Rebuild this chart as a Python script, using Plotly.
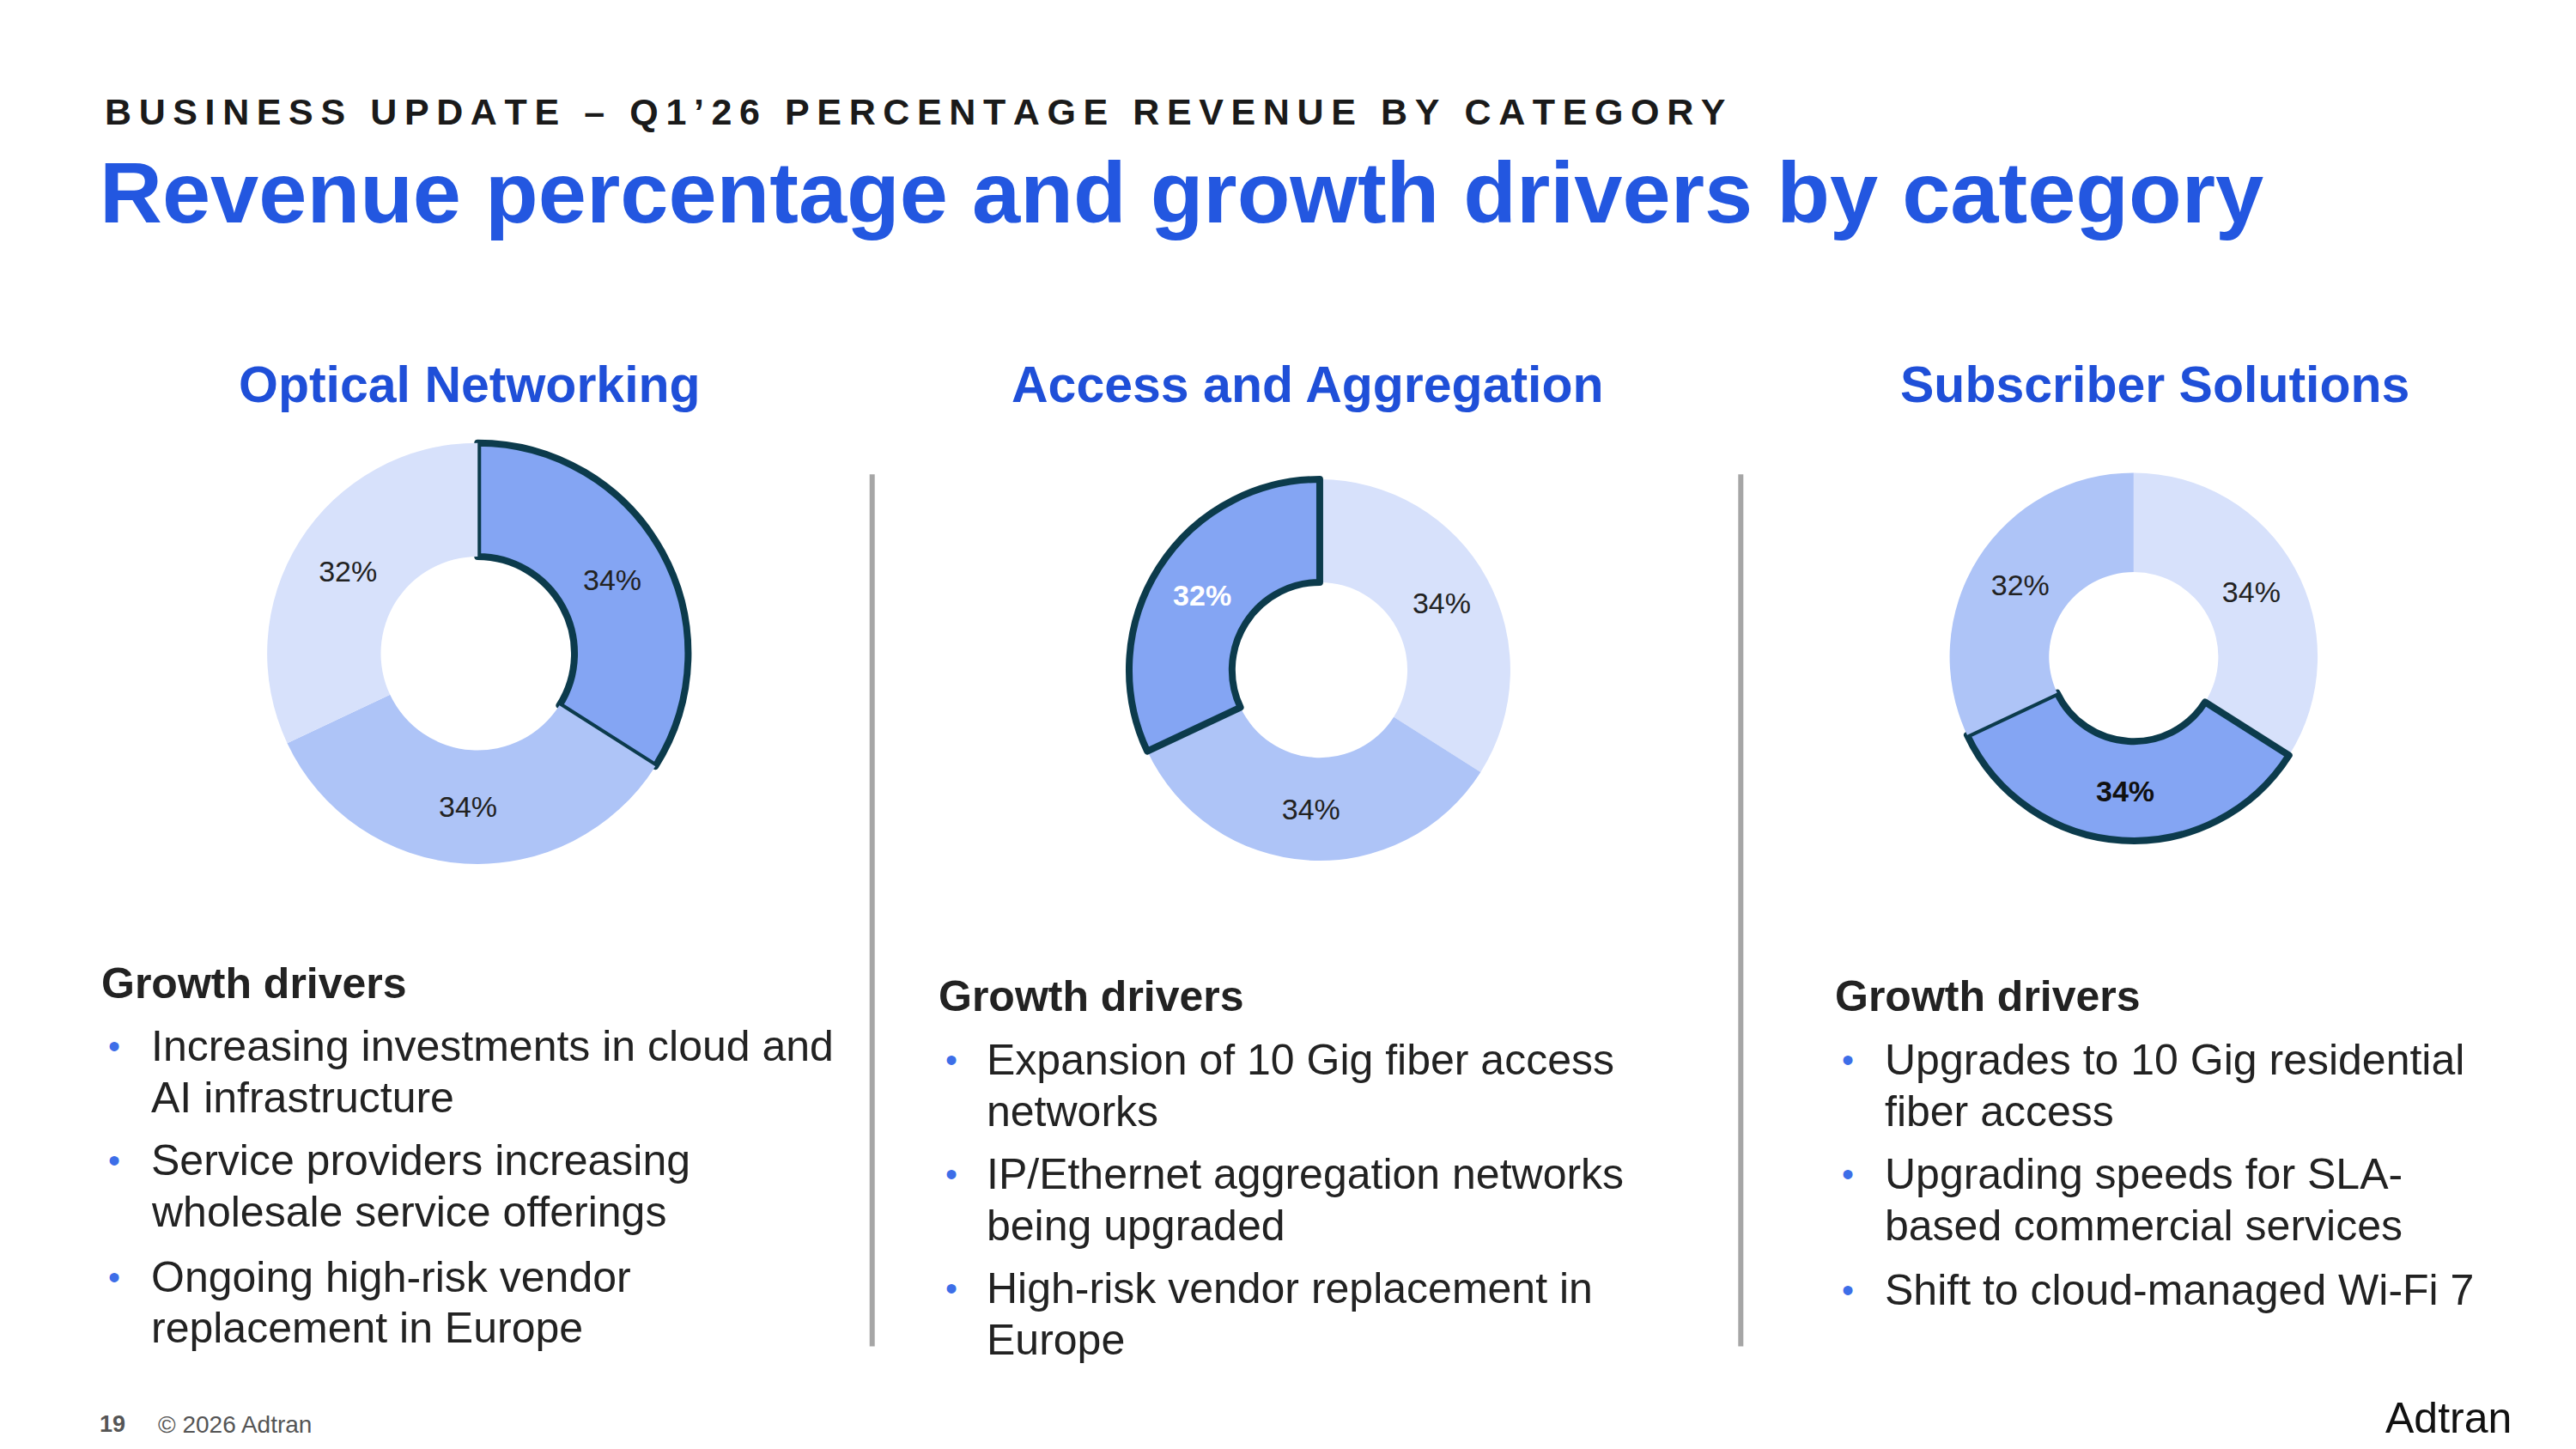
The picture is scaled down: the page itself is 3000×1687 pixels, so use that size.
import plotly.graph_objects as go

# data
categories = ["Optical Networking", "Access and Aggregation", "Subscriber Solutions"]
pie_values = [[34, 34, 32], [34, 34, 32], [34, 34, 32]]
# slice role per pie, clockwise from 12 o'clock: h = highlighted, m = mid, l = light
pie_roles = [["h", "m", "l"], ["l", "m", "h"], ["l", "h", "m"]]
drivers = [
    [["Increasing investments in cloud and", "AI infrastructure"],
     ["Service providers increasing", "wholesale service offerings"],
     ["Ongoing high-risk vendor", "replacement in Europe"]],
    [["Expansion of 10 Gig fiber access", "networks"],
     ["IP/Ethernet aggregation networks", "being upgraded"],
     ["High-risk vendor replacement in", "Europe"]],
    [["Upgrades to 10 Gig residential", "fiber access"],
     ["Upgrading speeds for SLA-", "based commercial services"],
     ["Shift to cloud-managed Wi-Fi 7"]],
]
kicker = "BUSINESS UPDATE – Q1’26 PERCENTAGE REVENUE BY CATEGORY"

W, H = 1554, 874  # reference layout units


def px(x):
    return x / W


def py(y):
    return 1 - y / H


COL = {"h": "#84a5f3", "m": "#aec4f7", "l": "#d7e1fb"}
DARK = "#0c3b4c"
TXT = "#222222"
BLUE = "#2357e0"

fig = go.Figure()

# pie centers and radii in reference units
pies = [(284, 390, 127), (792, 400, 115), (1283, 392, 111)]
hl_text = ["#222222", "white", "#111111"]

for i, (cx, cy, r) in enumerate(pies):
    roles = pie_roles[i]
    texts = []
    for v, ro in zip(pie_values[i], roles):
        if ro == "h" and i > 0:
            texts.append(f"<b>{v}%</b>")
        else:
            texts.append(f"{v}%")
    fig.add_trace(go.Pie(
        values=pie_values[i],
        text=texts,
        textinfo="text",
        hole=0.46,
        sort=False,
        direction="clockwise",
        rotation=0,
        marker=dict(colors=[COL[ro] for ro in roles],
                    line=dict(color=[DARK if ro == "h" else "white" for ro in roles],
                              width=[8 if ro == "h" else 0 for ro in roles])),
        textposition="inside",
        insidetextorientation="horizontal",
        textfont=dict(size=34, family="Arial, Liberation Sans",
                      color=[hl_text[i] if ro == "h" else TXT for ro in roles]),
        domain=dict(x=[px(cx - r), px(cx + r)], y=[py(cy + r), py(cy - r)]),
        showlegend=False,
        hoverinfo="skip",
    ))

ann = []
F = "Arial, Liberation Sans, sans-serif"
spaced = "\u2009".join(kicker)
ann.append(dict(x=px(58), y=py(63), text=f"<b>{spaced}</b>",
                font=dict(size=43, color="#1a1a1a", family=F), xanchor="left", yanchor="middle"))
ann.append(dict(x=px(55), y=py(112), text="<b>Revenue percentage and growth drivers by category</b>",
                font=dict(size=101, color=BLUE, family=F), xanchor="left", yanchor="middle"))

title_x = [279, 785, 1296]
for i, t in enumerate(categories):
    ann.append(dict(x=px(title_x[i]), y=py(228), text=f"<b>{t}</b>",
                    font=dict(size=59, color="#1f4fd8", family=F), xanchor="center", yanchor="middle"))

head_y = [589, 597, 597]
bullet_x = [60, 565, 1106]
text_x = [86, 590, 1132]
bullet_y = [[627, 696, 766], [635, 704, 773], [635, 704, 774]]
for i in range(3):
    ann.append(dict(x=px(bullet_x[i] - 4), y=py(head_y[i]), text="<b>Growth drivers</b>",
                    font=dict(size=50, color=TXT, family=F), xanchor="left", yanchor="middle"))
    for j, lines in enumerate(drivers[i]):
        yy = bullet_y[i][j]
        ann.append(dict(x=px(bullet_x[i]), y=py(yy), text="•",
                        font=dict(size=40, color="#3d6ee8", family=F), xanchor="left", yanchor="middle"))
        for k, line in enumerate(lines):
            ann.append(dict(x=px(text_x[i]), y=py(yy + 31 * k), text=line, align="left",
                            font=dict(size=50, color=TXT, family=F), xanchor="left", yanchor="middle"))

ann.append(dict(x=px(55), y=py(855), text="<b>19</b>", font=dict(size=27, color="#555", family=F),
                xanchor="left", yanchor="middle"))
ann.append(dict(x=px(90), y=py(855), text="© 2026 Adtran", font=dict(size=28, color="#555", family=F),
                xanchor="left", yanchor="middle"))
ann.append(dict(x=px(1512), y=py(851), text="Adtran", font=dict(size=50, color="#111", family=F),
                xanchor="right", yanchor="middle"))

for a in ann:
    a.update(xref="paper", yref="paper", showarrow=False)

shapes = []
for sx in [522, 1046]:
    shapes.append(dict(type="line", xref="paper", yref="paper", x0=px(sx), x1=px(sx),
                       y0=py(282), y1=py(808), line=dict(color="#a6a6a6", width=6)))

fig.update_layout(
    width=3000, height=1687,
    margin=dict(l=0, r=0, t=0, b=0),
    paper_bgcolor="white", plot_bgcolor="white",
    annotations=ann, shapes=shapes,
)

fig.write_html("out.html")
